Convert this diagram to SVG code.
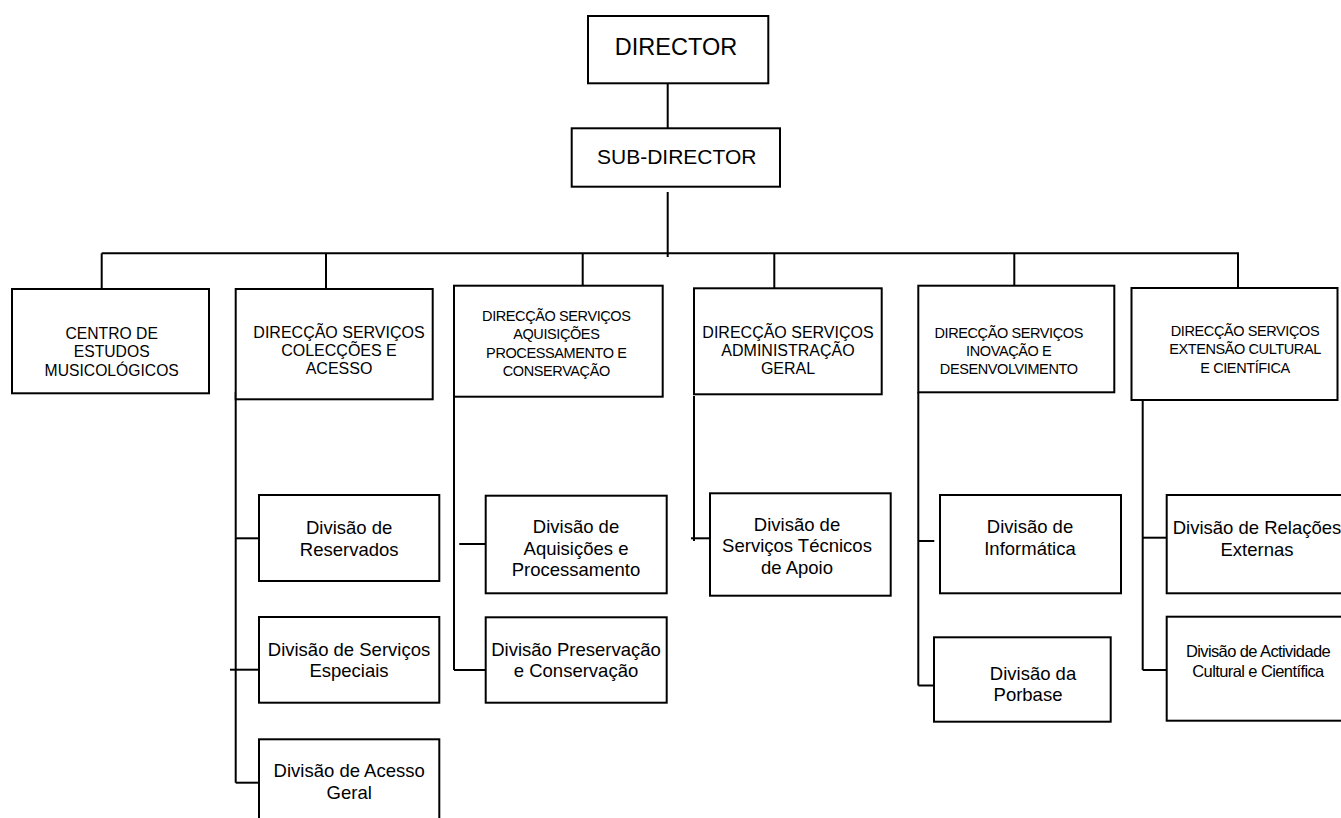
<svg xmlns="http://www.w3.org/2000/svg" width="1341" height="818" viewBox="0 0 1341 818">
<style>
  .box { fill: #ffffff; stroke: #000000; stroke-width: 2; }
  .ln { fill: none; stroke: #000000; stroke-width: 2; }
  text { font-family: "Liberation Sans", Arial, sans-serif; fill: #000000; text-anchor: middle; }
  .top { font-size: 23.5px; }
  .sub { font-size: 21px; }
  .l2 { font-size: 16px; }
  .l2c { font-size: 14.5px; letter-spacing: -0.4px; }
  .div { font-size: 18.5px; }
  .divc { font-size: 16.5px; letter-spacing: -0.6px; }
</style>
<rect width="1341" height="818" fill="#ffffff"/>
<g id="connectors">
  <path class="ln" d="M667.7,80 V128"/>
  <path class="ln" d="M667.7,192 V257"/>
  <path class="ln" d="M101.7,253.3 H1239"/>
  <path class="ln" d="M101.7,253.3 V291.5"/>
  <path class="ln" d="M326,253.3 V289"/>
  <path class="ln" d="M582.7,253.3 V286"/>
  <path class="ln" d="M774.3,253.3 V288.5"/>
  <path class="ln" d="M1014.3,253.3 V286"/>
  <path class="ln" d="M1238,253.3 V288.5"/>
  <path class="ln" d="M235.7,391.7 V782.7"/>
  <path class="ln" d="M235.7,538.3 H259"/>
  <path class="ln" d="M230,669.7 H259"/>
  <path class="ln" d="M235.7,782.7 H259"/>
  <path class="ln" d="M454,396.7 V670"/>
  <path class="ln" d="M459.3,544 H485.7"/>
  <path class="ln" d="M454,670 H485.7"/>
  <path class="ln" d="M694,396 V541"/>
  <path class="ln" d="M691,538.3 H710"/>
  <path class="ln" d="M918.3,392 V685.5"/>
  <path class="ln" d="M918.3,541 H934.3"/>
  <path class="ln" d="M918.3,685.5 H934"/>
  <path class="ln" d="M1142.7,395 V670"/>
  <path class="ln" d="M1142.7,537.7 H1166.7"/>
  <path class="ln" d="M1142.7,670 H1166.7"/>
</g>
<g id="director">
  <rect class="box" x="588" y="16" width="180.3" height="67.3"/>
  <text class="top" x="676" y="55">DIRECTOR</text>
</g>
<g id="subdirector">
  <rect class="box" x="571.7" y="128.3" width="208.3" height="58.4"/>
  <text class="sub" x="676.7" y="164">SUB-DIRECTOR</text>
</g>
<g id="centro">
  <rect class="box" x="12" y="289" width="197" height="104.3"/>
  <text class="l2" style="font-size:15.7px" x="111.7" y="339">CENTRO DE</text>
  <text class="l2" style="font-size:15.7px" x="111.7" y="357.3">ESTUDOS</text>
  <text class="l2" style="font-size:15.7px" x="111.7" y="375.7">MUSICOLÓGICOS</text>
</g>
<g id="dsca">
  <rect class="box" x="235.7" y="289" width="197" height="110.3"/>
  <text class="l2" x="339" y="337.7">DIRECÇÃO SERVIÇOS</text>
  <text class="l2" x="339" y="356">COLECÇÕES E</text>
  <text class="l2" x="339" y="374.3">ACESSO</text>
</g>
<g id="dsapc">
  <rect class="box" x="454" y="285.7" width="208.7" height="111"/>
  <text class="l2c" x="556.3" y="321">DIRECÇÃO SERVIÇOS</text>
  <text class="l2c" x="556.3" y="339">AQUISIÇÕES</text>
  <text class="l2c" x="556.3" y="357.5">PROCESSAMENTO E</text>
  <text class="l2c" x="556.3" y="375.5">CONSERVAÇÃO</text>
</g>
<g id="dsag">
  <rect class="box" x="694" y="288.3" width="187.7" height="106"/>
  <text class="l2" x="788" y="337.7">DIRECÇÃO SERVIÇOS</text>
  <text class="l2" x="788" y="356">ADMINISTRAÇÃO</text>
  <text class="l2" x="788" y="374.3">GERAL</text>
</g>
<g id="dsid">
  <rect class="box" x="918.3" y="285.7" width="196" height="106.6"/>
  <text class="l2c" x="1008.7" y="337.7">DIRECÇÃO SERVIÇOS</text>
  <text class="l2c" x="1008.7" y="356">INOVAÇÃO E</text>
  <text class="l2c" x="1008.7" y="374.3">DESENVOLVIMENTO</text>
</g>
<g id="dsecc">
  <rect class="box" x="1131.5" y="288" width="206" height="112"/>
  <text class="l2c" x="1245" y="336">DIRECÇÃO SERVIÇOS</text>
  <text class="l2c" x="1245" y="354.3">EXTENSÃO CULTURAL</text>
  <text class="l2c" x="1245" y="372.5">E CIENTÍFICA</text>
</g>
<g id="reservados">
  <rect class="box" x="259" y="495" width="180.3" height="86"/>
  <text class="div" x="349.2" y="534">Divisão de</text>
  <text class="div" x="349.2" y="555.5">Reservados</text>
</g>
<g id="especiais">
  <rect class="box" x="259" y="617" width="180.3" height="85.7"/>
  <text class="div" x="349" y="655.5">Divisão de Serviços</text>
  <text class="div" x="349" y="677">Especiais</text>
</g>
<g id="acesso">
  <rect class="box" x="259" y="739.3" width="180.3" height="100"/>
  <text class="div" x="349.2" y="777">Divisão de Acesso</text>
  <text class="div" x="349.2" y="799.3">Geral</text>
</g>
<g id="aquisicoes">
  <rect class="box" x="485.7" y="495.7" width="181" height="97.6"/>
  <text class="div" x="576" y="533.3">Divisão de</text>
  <text class="div" x="576" y="554.5">Aquisições e</text>
  <text class="div" x="576" y="576">Processamento</text>
</g>
<g id="preservacao">
  <rect class="box" x="485.7" y="617.3" width="181" height="85.4"/>
  <text class="div" x="576" y="655.7">Divisão Preservação</text>
  <text class="div" x="576" y="676.7">e Conservação</text>
</g>
<g id="tecnicos">
  <rect class="box" x="710" y="493.3" width="180.7" height="102.4"/>
  <text class="div" x="797" y="530.7">Divisão de</text>
  <text class="div" x="797" y="552.3">Serviços Técnicos</text>
  <text class="div" x="797" y="573.5">de Apoio</text>
</g>
<g id="informatica">
  <rect class="box" x="940" y="495" width="181" height="98.3"/>
  <text class="div" x="1030" y="533.3">Divisão de</text>
  <text class="div" x="1030" y="555">Informática</text>
</g>
<g id="porbase">
  <rect class="box" x="934" y="637.3" width="176.7" height="84.4"/>
  <text class="div" x="1033" y="680">Divisão da</text>
  <text class="div" x="1028" y="701">Porbase</text>
</g>
<g id="relacoes">
  <rect class="box" x="1166.7" y="495" width="182" height="98.3"/>
  <text class="div" x="1257" y="533.5">Divisão de Relações</text>
  <text class="div" x="1257" y="555.5">Externas</text>
</g>
<g id="actividade">
  <rect class="box" x="1166.7" y="616.7" width="182" height="104"/>
  <text class="divc" x="1258" y="656.7">Divisão  de Actividade</text>
  <text class="divc" x="1258" y="676.7">Cultural e Científica</text>
</g>
</svg>
